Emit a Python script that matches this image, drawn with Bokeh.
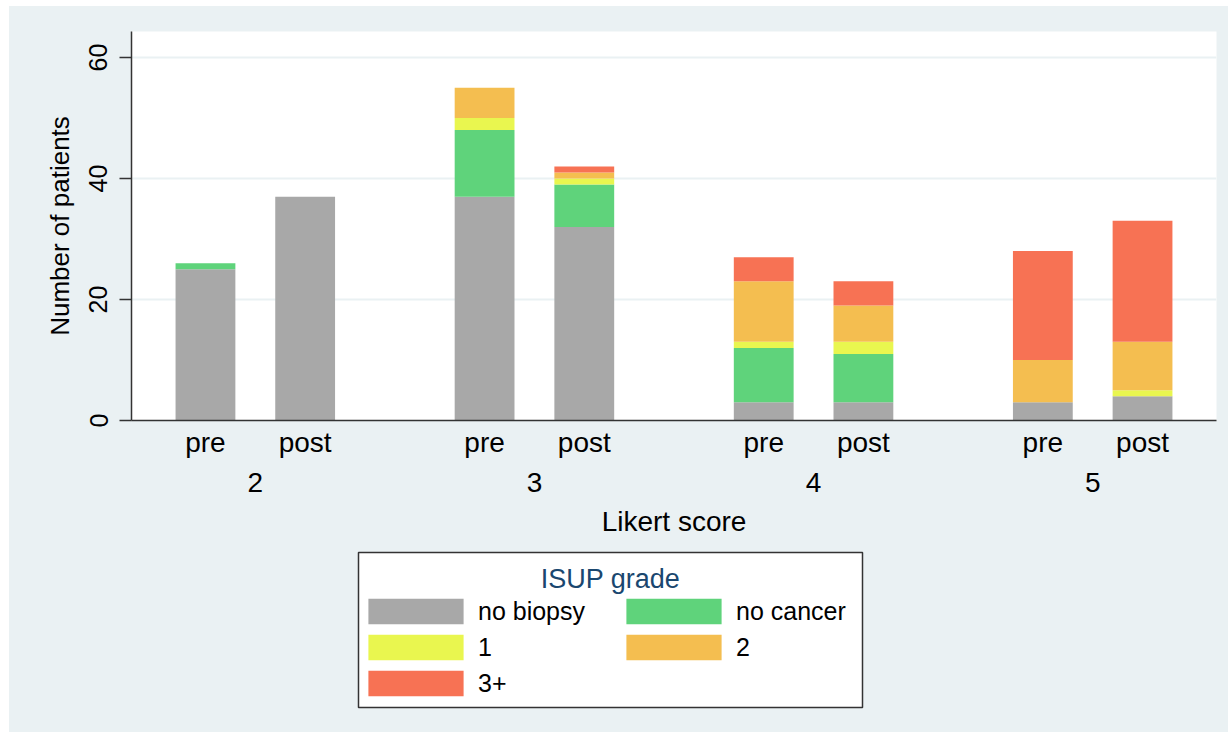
from bokeh.plotting import figure
from bokeh.models import (ColumnDataSource, Range1d, Legend, LegendItem, LinearAxis,
                          FixedTicker, Label, BoxAnnotation)
from bokeh.layouts import column
from bokeh.embed import file_html
from bokeh.resources import INLINE

# ---- data ----
scores = ["2", "3", "4", "5"]
phases = ["pre", "post"]
grades = ["no biopsy", "no cancer", "1", "2", "3+"]
no_biopsy = [25, 37, 37, 32, 3, 3, 3, 4]
no_cancer = [1, 0, 11, 7, 9, 8, 0, 0]
grade1 = [0, 0, 2, 1, 1, 2, 0, 1]
grade2 = [0, 0, 5, 1, 10, 6, 7, 8]
grade3p = [0, 0, 0, 1, 4, 4, 18, 20]
y_ticks = [0, 20, 40, 60]
colors = ["#A8A8A8", "#5FD37B", "#E9F64F", "#F4BE50", "#F77254"]

FONT = "Liberation Sans"
BG = "#EAF1F3"

# category -> axis position (bars of a group 10 apart, groups 28 apart)
PHASE_STEP, GROUP_STEP = 10, 28
xpos = [gi * GROUP_STEP + pi * PHASE_STEP for gi in range(len(scores)) for pi in range(len(phases))]
xlab = [ph for s in scores for ph in phases]
gpos = [gi * GROUP_STEP + PHASE_STEP // 2 for gi in range(len(scores))]

keys = ["nb", "nc", "g1", "g2", "g3"]
src = ColumnDataSource(dict(x=xpos, nb=no_biopsy, nc=no_cancer, g1=grade1, g2=grade2, g3=grade3p))

pad = 7.42
p = figure(x_range=Range1d(xpos[0] - pad, xpos[-1] + pad), y_range=Range1d(0, 64.3),
           frame_width=1085, frame_height=389, x_axis_type=None,
           min_border_left=122, min_border_right=12, min_border_top=25, min_border_bottom=126,
           output_backend="svg", toolbar_location=None)
p.border_fill_color = BG
p.background_fill_color = "white"
p.outline_line_color = None

p.vbar_stack(keys, x="x", width=6, source=src, color=colors, line_color=None)

# y axis
ya = p.yaxis[0]
ya.ticker = FixedTicker(ticks=y_ticks)
ya.minor_tick_line_color = None
ya.major_tick_out = 12
ya.major_tick_in = 0
ya.major_tick_line_color = "#333333"
ya.major_tick_line_width = 1.5
ya.axis_line_color = "#333333"
ya.axis_line_width = 1.5
ya.major_label_orientation = "vertical"
ya.major_label_text_font = FONT
ya.major_label_text_font_size = "25px"
ya.major_label_text_color = "black"
ya.major_label_standoff = 12
ya.axis_label = "Number of patients"
ya.axis_label_text_font = FONT
ya.axis_label_text_font_size = "26px"
ya.axis_label_text_font_style = "normal"
ya.axis_label_text_color = "black"
ya.axis_label_standoff = 12

# x axis: phase labels
xa = LinearAxis(ticker=FixedTicker(ticks=xpos),
                major_label_overrides={v: t for v, t in zip(xpos, xlab)})
xa.axis_line_color = "#333333"
xa.axis_line_width = 1.5
xa.major_tick_line_color = None
xa.major_tick_out = 6
xa.major_tick_in = 0
xa.minor_tick_line_color = None
xa.major_label_text_font = FONT
xa.major_label_text_font_size = "28px"
xa.major_label_text_color = "black"
xa.major_label_standoff = 0
p.add_layout(xa, "below")

# x axis: score labels + title
ga = LinearAxis(ticker=FixedTicker(ticks=gpos),
                major_label_overrides={v: t for v, t in zip(gpos, scores)})
ga.axis_line_color = None
ga.major_tick_line_color = None
ga.major_tick_out = 0
ga.major_tick_in = 0
ga.minor_tick_line_color = None
ga.major_label_text_font = FONT
ga.major_label_text_font_size = "28px"
ga.major_label_text_color = "black"
ga.major_label_standoff = 12
ga.axis_label = "Likert score"
ga.axis_label_text_font = FONT
ga.axis_label_text_font_size = "28px"
ga.axis_label_text_font_style = "normal"
ga.axis_label_text_color = "black"
ga.axis_label_standoff = 11
p.add_layout(ga, "below")

p.ygrid.ticker = FixedTicker(ticks=y_ticks)
p.ygrid.grid_line_color = BG
p.ygrid.grid_line_width = 2

# ---- legend panel (second figure below the chart) ----
q = figure(x_range=p.x_range, y_range=Range1d(0, 1), frame_width=1219, frame_height=186,
           min_border=0, x_axis_type=None, y_axis_type=None,
           output_backend="svg", toolbar_location=None)
q.border_fill_color = BG
q.background_fill_color = BG
q.outline_line_color = None
lr = q.vbar_stack(keys, x="x", width=6, source=src, color=colors, line_color=None)
for r in lr:
    r.visible = False

box = BoxAnnotation(left=227, right=731, bottom=25, top=180,
                    left_units="screen", right_units="screen",
                    top_units="screen", bottom_units="screen",
                    fill_color="white", fill_alpha=1, line_color="#333333",
                    line_alpha=1, line_width=1.5, level="underlay")
q.add_layout(box)

items = [LegendItem(label=g, renderers=[r]) for g, r in zip(grades, lr)]
legend = Legend(items=items, location=(347, 33), orientation="horizontal", ncols=2,
                glyph_width=119, glyph_height=32, label_height=26, label_width=132,
                label_standoff=3, spacing=4, padding=0, margin=0,
                label_text_font=FONT, label_text_font_size="25px", label_text_color="black",
                border_line_color=None, background_fill_alpha=0,
                inactive_fill_alpha=0)
q.add_layout(legend, "center")

title = Label(x=479, y=154, x_units="screen", y_units="screen", text="ISUP grade",
              text_font=FONT, text_font_size="27px", text_color="#1A476F",
              text_align="center", text_baseline="middle", level="overlay")
q.add_layout(title)

layout = column(p, q, spacing=0, margin=(6, 0, 0, 9), styles={"background-color": BG})
open("out.html", "w").write(file_html(layout, INLINE))
